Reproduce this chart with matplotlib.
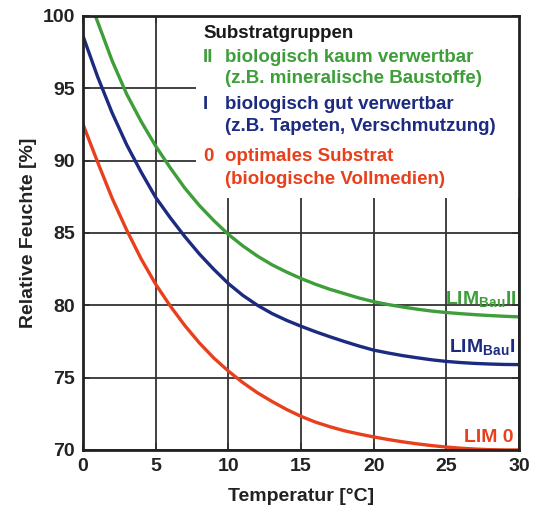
import matplotlib.pyplot as plt
from matplotlib.patches import Rectangle

plt.rcParams['font.family'] = ['Liberation Sans', 'DejaVu Sans']
plt.rcParams['font.weight'] = 'bold'
plt.rcParams['mathtext.fontset'] = 'custom'
plt.rcParams['mathtext.rm'] = 'Liberation Sans:bold'
plt.rcParams['mathtext.bf'] = 'Liberation Sans:bold'

# Kurven (Temperatur in °C, relative Feuchte in %)
x_ii = [0.85, 1, 2, 3, 4, 5, 6, 7, 8, 9, 10, 11, 12, 13, 14, 15, 16, 17, 18, 19, 20,
        21, 22, 23, 24, 25, 26, 27, 28, 29, 30]
rf_ii = [100.0, 99.6, 96.9, 94.6, 92.7, 91.0, 89.5, 88.1, 86.9, 85.85, 84.9, 84.1, 83.4, 82.8,
         82.3, 81.85, 81.45, 81.1, 80.8, 80.5, 80.25, 80.05, 79.88, 79.73, 79.6, 79.5, 79.42,
         79.35, 79.29, 79.24, 79.2]

x_i = [0, 1, 2, 3, 4, 5, 6, 7, 8, 9, 10, 11, 12, 13, 14, 15, 16, 17, 18, 19, 20,
       21, 22, 23, 24, 25, 26, 27, 28, 29, 30]
rf_i = [98.6, 95.8, 93.3, 91.1, 89.2, 87.45, 86.05, 84.75, 83.55, 82.48, 81.5, 80.68, 80.0,
        79.43, 78.96, 78.55, 78.17, 77.82, 77.49, 77.18, 76.9, 76.7, 76.52, 76.37, 76.23, 76.12,
        76.04, 75.98, 75.94, 75.91, 75.9]

x_0 = [0, 1, 2, 3, 4, 5, 6, 7, 8, 9, 10, 11, 12, 13, 14, 15, 16, 17, 18, 19, 20,
       21, 22, 23, 24, 25, 26, 27, 28, 29, 30]
rf_0 = [92.5, 89.9, 87.4, 85.2, 83.2, 81.45, 79.95, 78.6, 77.4, 76.35, 75.45, 74.65, 73.95,
        73.35, 72.8, 72.32, 71.92, 71.6, 71.32, 71.1, 70.9, 70.72, 70.56, 70.42, 70.3, 70.2,
        70.12, 70.06, 70.02, 70.0, 70.0]

xticks = [0, 5, 10, 15, 20, 25, 30]
yticks = [70, 75, 80, 85, 90, 95, 100]

green = '#3e9e3a'
blue = '#1c2a80'
red = '#e8401c'

fig = plt.figure(figsize=(5.43, 5.16), dpi=100)
ax = fig.add_axes([0.153, 0.128, 0.803, 0.841])

ax.set_xlim(0, 30)
ax.set_ylim(70, 100)
ax.set_xticks(xticks)
ax.set_yticks(yticks)
ax.set_axisbelow(True)
ax.grid(True, color='#333333', linewidth=1.3)

# weisser Kasten fuer die Legende (verdeckt das Gitter)
ax.add_patch(Rectangle((7.8, 87.4), 22.2, 12.6, facecolor='white', edgecolor='none', zorder=1))

ax.plot(x_ii, rf_ii, color=green, linewidth=2.4, zorder=3)
ax.plot(x_i, rf_i, color=blue, linewidth=2.4, zorder=3)
ax.plot(x_0, rf_0, color=red, linewidth=2.4, zorder=3)

for s in ax.spines.values():
    s.set_linewidth(2)
    s.set_color('#222222')
    s.set_zorder(4)

ax.tick_params(direction='in', length=5, width=1.3, color='#333333', top=True, right=True,
               labelsize=14, pad=6)
for lab in ax.get_xticklabels() + ax.get_yticklabels():
    lab.set_fontweight('bold')
    lab.set_color('#222222')

ax.set_xlabel('Temperatur [°C]', fontsize=14, fontweight='bold', color='#222222', labelpad=9)
ax.set_ylabel('Relative Feuchte [%]', fontsize=14, fontweight='bold', color='#222222', labelpad=4)

# Legende
fs = 13.5
ax.text(8.25, 98.8, 'Substratgruppen', fontsize=fs, fontweight='bold', color='#1a1a1a', va='center', zorder=5)
ax.text(8.25, 97.1, 'II', fontsize=fs, fontweight='bold', color=green, va='center', zorder=5)
ax.text(9.76, 97.1, 'biologisch kaum verwertbar', fontsize=fs, fontweight='bold', color=green, va='center', zorder=5)
ax.text(9.76, 95.7, '(z.B. mineralische Baustoffe)', fontsize=fs, fontweight='bold', color=green, va='center', zorder=5)
ax.text(8.25, 93.85, 'I', fontsize=fs, fontweight='bold', color=blue, va='center', zorder=5)
ax.text(9.76, 93.85, 'biologisch gut verwertbar', fontsize=fs, fontweight='bold', color=blue, va='center', zorder=5)
ax.text(9.76, 92.35, '(z.B. Tapeten, Verschmutzung)', fontsize=fs, fontweight='bold', color=blue, va='center', zorder=5)
ax.text(8.25, 90.3, '0', fontsize=fs, fontweight='bold', color=red, va='center', zorder=5)
ax.text(9.76, 90.3, 'optimales Substrat', fontsize=fs, fontweight='bold', color=red, va='center', zorder=5)
ax.text(9.76, 88.7, '(biologische Vollmedien)', fontsize=fs, fontweight='bold', color=red, va='center', zorder=5)

# Kurvenbeschriftungen
ax.text(29.85, 80.4, r'LIM$_{\mathrm{Bau}}$II', fontsize=14, color=green, ha='right', va='center', zorder=5)
ax.text(29.75, 77.05, r'LIM$_{\mathrm{Bau}}$I', fontsize=14, color=blue, ha='right', va='center', zorder=5)
ax.text(29.6, 70.85, 'LIM 0', fontsize=14, fontweight='bold', color=red, ha='right', va='center', zorder=5)

fig.savefig('out.png', dpi=100)
